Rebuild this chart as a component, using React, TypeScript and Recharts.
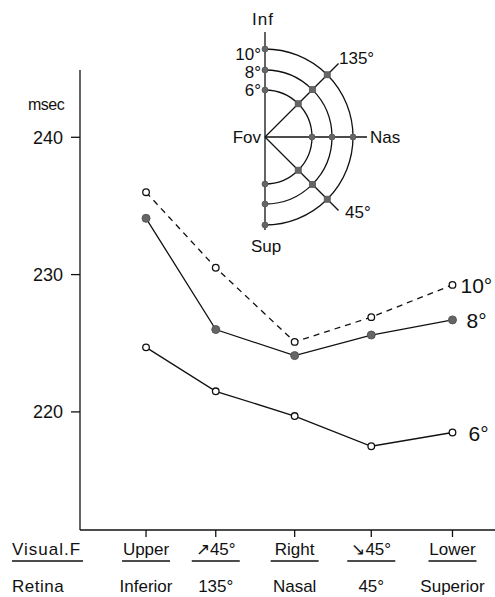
import React from "react";
import { LineChart, Line, XAxis, YAxis, LabelList } from "recharts";

const positions = [0, 0.91, 1.94, 2.94, 4];
const topLabels = ["Upper", "\u219745\u00b0", "Right", "\u219845\u00b0", "Lower"];
const bottomLabels = ["Inferior", "135\u00b0", "Nasal", "45\u00b0", "Superior"];
const series10 = [236.0, 230.5, 225.1, 226.9, 229.25];
const series8 = [234.1, 226.0, 224.1, 225.6, 226.7];
const series6 = [224.7, 221.5, 219.7, 217.5, 218.5];
const yTicks = [220, 230, 240];
const seriesNames = ["10\u00b0", "8\u00b0", "6\u00b0"];

const data = positions.map((p, i) => ({
  pos: p,
  s10: series10[i],
  s8: series8[i],
  s6: series6[i],
}));

const FONT = "'Liberation Sans', Arial, sans-serif";

const OpenDot = (props: any) => {
  const { cx, cy } = props;
  if (cx == null || cy == null) return null;
  return <circle cx={cx} cy={cy} r={3.3} fill="#fff" stroke="#111" strokeWidth={1.3} />;
};
const FilledDot = (props: any) => {
  const { cx, cy } = props;
  if (cx == null || cy == null) return null;
  return <circle cx={cx} cy={cy} r={4} fill="#666" stroke="#555" strokeWidth={1} />;
};

const endLabel = (name: string, dx: number) => (props: any) => {
  const { x, y, index } = props;
  const isLast = index != null ? index === data.length - 1 : x > 440;
  if (!isLast) return null;
  return (
    <text x={x + dx} y={y + 8} fontSize={21} fontFamily={FONT} fill="#111">
      {name}
    </text>
  );
};

const CatTick = (props: any) => {
  const { x, y, payload } = props;
  const i = positions.indexOf(payload.value);
  const top = topLabels[i];
  const bot = bottomLabels[i];
  return (
    <g>
      <text x={x} y={y + 16} textAnchor="middle" fontSize={17} fontFamily={FONT} fill="#111">
        {top}
      </text>
      <line x1={x - 24} x2={x + 24} y1={y + 22} y2={y + 22} stroke="#111" strokeWidth={1.3} />
      <text x={x} y={y + 53} textAnchor="middle" fontSize={17} fontFamily={FONT} fill="#111">
        {bot}
      </text>
    </g>
  );
};

const Inset = () => {
  const cx = 265;
  const cy = 137;
  const radii = [47, 67, 88];
  const c45 = Math.SQRT1_2;
  return (
    <svg
      width={495}
      height={597}
      style={{ position: "absolute", left: 0, top: 0, pointerEvents: "none" }}
    >
      <g stroke="#111" strokeWidth={1.3} fill="none">
        <line x1={cx} y1={32} x2={cx} y2={230} />
        {radii.map((r) => (
          <path key={r} d={`M ${cx} ${cy - r} A ${r} ${r} 0 0 1 ${cx} ${cy + r}`} />
        ))}
        <line x1={cx} y1={cy} x2={367} y2={cy} />
        <line x1={cx} y1={cy} x2={cx + 104 * c45} y2={cy - 104 * c45} />
        <line x1={cx} y1={cy} x2={cx + 104 * c45} y2={cy + 104 * c45} />
      </g>
      <g fill="#666" stroke="#555" strokeWidth={0.8}>
        {radii.map((r) => (
          <React.Fragment key={r}>
            <circle cx={cx} cy={cy - r} r={3} />
            <circle cx={cx} cy={cy + r} r={3} />
            <circle cx={cx + r} cy={cy} r={3} />
            <rect x={cx + r * c45 - 3} y={cy - r * c45 - 3} width={6} height={6} />
            <rect x={cx + r * c45 - 3} y={cy + r * c45 - 3} width={6} height={6} />
          </React.Fragment>
        ))}
      </g>
      <g fontFamily={FONT} fill="#111" fontSize={17}>
        <text x={263} y={25} textAnchor="middle" letterSpacing={1}>Inf</text>
        <text x={266} y={252} textAnchor="middle">Sup</text>
        <text x={261} y={143} textAnchor="end">Fov</text>
        <text x={370} y={143}>Nas</text>
        <text x={339} y={64}>135°</text>
        <text x={345} y={218}>45°</text>
        <text x={261} y={60} textAnchor="end">10°</text>
        <text x={261} y={78} textAnchor="end">8°</text>
        <text x={261} y={96} textAnchor="end">6°</text>
        <text x={28} y={110} fontSize={16} letterSpacing={-0.5}>msec</text>
        <text x={12} y={555} fontSize={17} letterSpacing={1}>Visual.F</text>
        <line x1={12} x2={83} y1={561} y2={561} stroke="#111" strokeWidth={1.3} />
        <text x={12} y={592} fontSize={17} letterSpacing={0.5}>Retina</text>
      </g>
    </svg>
  );
};

export default function App() {
  return (
    <div style={{ position: "absolute", left: 0, top: 0, width: 495, height: 597, background: "#fff" }}>
      <LineChart
        width={495}
        height={597}
        data={data}
        margin={{ top: 70, right: 0, bottom: 0, left: 0 }}
      >
        <XAxis
          dataKey="pos"
          type="number"
          domain={[-0.862, 4.555]}
          ticks={positions}
          tickSize={7}
          tickMargin={2}
          height={67}
          stroke="#111"
          strokeWidth={1.3}
          tick={<CatTick />}
          allowDataOverflow
        />
        <YAxis
          type="number"
          domain={[211.4, 244.9]}
          ticks={yTicks}
          width={80}
          tickSize={9}
          tickMargin={8}
          stroke="#111"
          strokeWidth={1.3}
          tick={{ fontSize: 18, fontFamily: FONT, fill: "#111" }}
          allowDataOverflow
        />
        <Line
          dataKey="s10"
          stroke="#111"
          strokeWidth={1.3}
          strokeDasharray="6 5"
          dot={<OpenDot />}
          isAnimationActive={false}
        >
          <LabelList dataKey="s10" content={endLabel(seriesNames[0], 8)} />
        </Line>
        <Line
          dataKey="s8"
          stroke="#111"
          strokeWidth={1.3}
          dot={<FilledDot />}
          isAnimationActive={false}
        >
          <LabelList dataKey="s8" content={endLabel(seriesNames[1], 14)} />
        </Line>
        <Line
          dataKey="s6"
          stroke="#111"
          strokeWidth={1.3}
          dot={<OpenDot />}
          isAnimationActive={false}
        >
          <LabelList dataKey="s6" content={endLabel(seriesNames[2], 16)} />
        </Line>
      </LineChart>
      <Inset />
    </div>
  );
}
